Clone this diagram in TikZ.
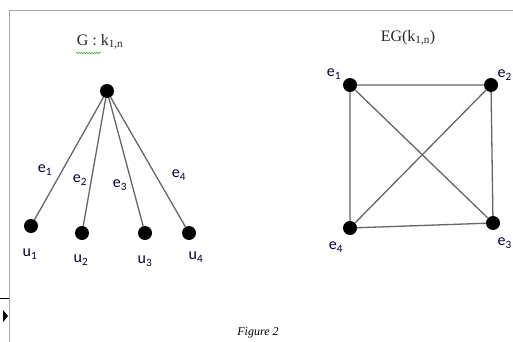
\documentclass[tikz,border=0pt]{standalone}
\usepackage{fontspec}
\setmainfont{Liberation Serif}
\newfontfamily\labelfont{Carlito}
\usetikzlibrary{decorations.pathmorphing}
\begin{document}
\begin{tikzpicture}[x=1pt,y=-1pt,
  vertex/.style={circle,fill=black,inner sep=0pt,minimum size=14pt},
  edge/.style={draw=black!60,line width=1.3pt},
  lbl/.style={font=\labelfont\fontsize{16}{16}\selectfont,text=black!80!blue,inner sep=0pt},
  heading/.style={font=\fontsize{16}{16}\selectfont,text=black!85,inner sep=0pt}]
\useasboundingbox (0,0) rectangle (513,342);
\clip (0,0) rectangle (513,342);
% page frame
\draw[black!35,line width=0.8pt] (9,342) -- (9,10) -- (513,10);
\draw[black,line width=1pt] (0,298) -- (9,298);
\fill[black] (3,310) -- (8,316) -- (3,322) -- cycle;

% star K_{1,n}
\node[heading] (gt) at (100,42) {G : k\textsubscript{1,n}};
\draw[green!60!black,line width=0.5pt,decorate,decoration={snake,amplitude=0.6pt,segment length=2.5pt}]
  (76,53) -- (101,53);
\node[vertex] (c) at (107,91) {};
\node[vertex] (u1) at (31,226) {};
\node[vertex] (u2) at (82,233) {};
\node[vertex] (u3) at (145,233) {};
\node[vertex] (u4) at (189,233) {};
\foreach \v in {u1,u2,u3,u4} \draw[edge] (c) -- (\v);
\node[lbl] at (45,170) {e\textsubscript{1}};
\node[lbl] at (80,180) {e\textsubscript{2}};
\node[lbl] at (120,185) {e\textsubscript{3}};
\node[lbl] at (179,175) {e\textsubscript{4}};
\node[lbl] at (30,254) {u\textsubscript{1}};
\node[lbl] at (81,260) {u\textsubscript{2}};
\node[lbl] at (145,261) {u\textsubscript{3}};
\node[lbl] at (196,257) {u\textsubscript{4}};

% edge graph EG(K_{1,n}) = K_4
\node[heading] (egt) at (408,38) {EG(k\textsubscript{1,n})};
\node[vertex] (a) at (350,85) {};
\node[vertex] (b) at (491,85) {};
\node[vertex] (d) at (350,228) {};
\node[vertex] (e) at (493,223) {};
\draw[edge] (a) -- (b) -- (e) -- (d) -- (a);
\draw[edge] (a) -- (e);
\draw[edge] (b) -- (d);
\node[lbl] at (334,74) {e\textsubscript{1}};
\node[lbl,anchor=east] at (512,75) {e\textsubscript{2}};
\node[lbl] at (336,247) {e\textsubscript{4}};
\node[lbl,anchor=east] at (512,243) {e\textsubscript{3}};

\node[font=\itshape\fontsize{12}{12}\selectfont,inner sep=0pt] (fig) at (258,333) {Figure 2};
\end{tikzpicture}
\end{document}
